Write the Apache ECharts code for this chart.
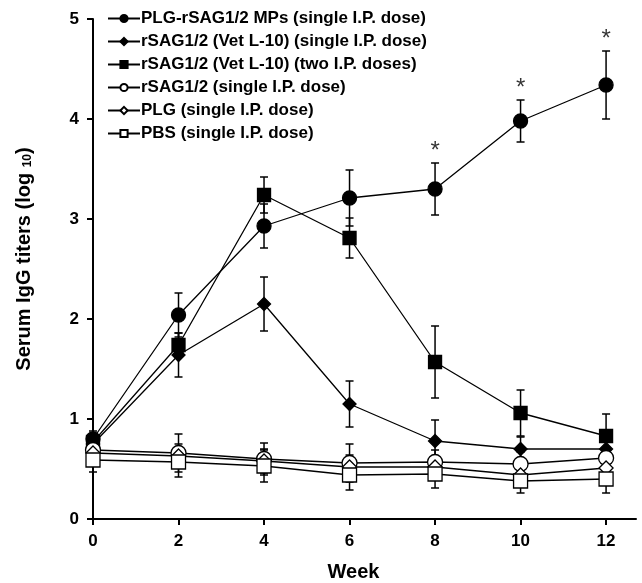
<!DOCTYPE html>
<html>
<head>
<meta charset="utf-8">
<script src="https://cdn.jsdelivr.net/npm/echarts@6/dist/echarts.min.js"></script>
<style>
html, body { margin: 0; padding: 0; background: #fff; }
#chart { width: 642px; height: 583px; }
</style>
</head>
<body>
<div id="chart"></div>
<script>
// 周数
var weeks = [0, 2, 4, 6, 8, 10, 12];
var weekTicks = [0, 2, 4, 6, 8, 10, 12];

// 各组名称
var groupNames = [
	'PLG-rSAG1/2 MPs (single I.P. dose)',
	'rSAG1/2 (Vet L-10) (single I.P. dose)',
	'rSAG1/2 (Vet L-10) (two I.P. doses)',
	'rSAG1/2 (single I.P. dose)',
	'PLG (single I.P. dose)',
	'PBS (single I.P. dose)'
];

// 均值 (log10)
var mpsMean    = [0.80, 2.04, 2.93, 3.21, 3.30, 3.98, 4.34];
var vetOneMean = [0.75, 1.64, 2.15, 1.15, 0.78, 0.70, 0.70];
var vetTwoMean = [0.77, 1.74, 3.24, 2.81, 1.57, 1.06, 0.83];
var sagMean    = [0.69, 0.66, 0.60, 0.56, 0.57, 0.55, 0.61];
var plgMean    = [0.66, 0.63, 0.58, 0.52, 0.52, 0.44, 0.51];
var pbsMean    = [0.59, 0.57, 0.53, 0.44, 0.45, 0.38, 0.40];

// 标准误差
var mpsErr    = [0.08, 0.22, 0.22, 0.28, 0.26, 0.21, 0.34];
var vetOneErr = [0.08, 0.22, 0.27, 0.23, 0.21, 0.12, 0.10];
var vetTwoErr = [0.08, 0.12, 0.18, 0.20, 0.36, 0.23, 0.22];
var sagErr    = [0.08, 0.19, 0.16, 0.19, 0.12, 0.12, 0.10];
var plgErr    = [0.10, 0.12, 0.12, 0.12, 0.10, 0.10, 0.08];
var pbsErr    = [0.12, 0.15, 0.16, 0.15, 0.14, 0.12, 0.14];

// 显著性标记 (*)
var starWeeks = [8, 10, 12];

var means = [mpsMean, vetOneMean, vetTwoMean, sagMean, plgMean, pbsMean];
var errs = [mpsErr, vetOneErr, vetTwoErr, sagErr, plgErr, pbsErr];
var symbols = ['circle', 'diamond', 'rect', 'circle', 'diamond', 'rect'];
var fills = ['#000', '#000', '#000', '#fff', '#fff', '#fff'];
var sizes = [14, 13, 13, 15, 14, 14];

var fontFamily = '"Liberation Sans", Arial, sans-serif';

function pairs(ys) {
	var out = [];
	for (var i = 0; i < weeks.length; i++) {
		out.push([weeks[i], ys[i]]);
	}
	return out;
}

function errRows(ys, es) {
	var out = [];
	for (var i = 0; i < weeks.length; i++) {
		out.push([weeks[i], ys[i] - es[i], ys[i] + es[i]]);
	}
	return out;
}

var series = [];

// 误差线
for (var g = 0; g < means.length; g++) {
	series.push({
		type : 'custom',
		z : 1,
		silent : true,
		data : errRows(means[g], errs[g]),
		renderItem : function(params, api) {
			var x = api.value(0);
			var lo = api.coord([x, api.value(1)]);
			var hi = api.coord([x, api.value(2)]);
			var cap = 4;
			var style = { stroke : '#000', lineWidth : 1.5 };
			return {
				type : 'group',
				children : [ {
					type : 'line',
					shape : { x1 : lo[0], y1 : lo[1], x2 : hi[0], y2 : hi[1] },
					style : style
				}, {
					type : 'line',
					shape : { x1 : lo[0] - cap, y1 : lo[1], x2 : lo[0] + cap, y2 : lo[1] },
					style : style
				}, {
					type : 'line',
					shape : { x1 : hi[0] - cap, y1 : hi[1], x2 : hi[0] + cap, y2 : hi[1] },
					style : style
				} ]
			};
		}
	});
}

// 折线
for (var g = 0; g < means.length; g++) {
	series.push({
		name : groupNames[g],
		type : 'line',
		z : 3,
		data : pairs(means[g]),
		symbol : symbols[g],
		symbolSize : sizes[g],
		showAllSymbol : true,
		lineStyle : { color : '#000', width : 1.3 },
		itemStyle : { color : fills[g], borderColor : '#000', borderWidth : 1.3 },
		emphasis : { disabled : true },
		animation : false
	});
}

// 星号
var starData = [];
for (var i = 0; i < starWeeks.length; i++) {
	var k = weeks.indexOf(starWeeks[i]);
	starData.push([starWeeks[i], mpsMean[k] + mpsErr[k] + 0.16]);
}
series.push({
	type : 'scatter',
	z : 4,
	symbolSize : 1,
	itemStyle : { color : 'transparent' },
	data : starData,
	label : {
		show : true,
		position : 'inside',
		formatter : '*',
		color : '#000',
		fontSize : 24,
		fontFamily : fontFamily,
		offset : [0, 4]
	},
	silent : true
});

var myChart = echarts.init(document.getElementById('chart'));
myChart.setOption({
	animation : false,
	backgroundColor : '#fff',
	grid : { left : 93, right : 6, top : 19, bottom : 64, outerBoundsMode : 'none' },
	legend : {
		data : groupNames,
		orient : 'vertical',
		left : 102,
		top : 5,
		itemWidth : 32,
		itemHeight : 9,
		itemGap : 6,
		selectedMode : false,
		textStyle : {
			color : '#000',
			fontSize : 17,
			fontWeight : 'bold',
			fontFamily : fontFamily,
			padding : [0, 0, 0, -4]
		}
	},
	xAxis : {
		type : 'value',
		min : 0,
		max : 12.7,
		name : 'Week',
		nameLocation : 'middle',
		nameGap : 43,
		nameTextStyle : { color : '#000', fontSize : 20, fontWeight : 'bold', fontFamily : fontFamily, padding : [0, 22, 0, 0] },
		splitLine : { show : false },
		axisLine : { show : true, lineStyle : { color : '#000', width : 2 } },
		axisTick : { show : true, customValues : weekTicks, length : 6, lineStyle : { color : '#000', width : 2 } },
		axisLabel : { customValues : weekTicks, margin : 14, color : '#000', fontSize : 17, fontWeight : 'bold', fontFamily : fontFamily }
	},
	yAxis : {
		type : 'value',
		min : 0,
		max : 5,
		interval : 1,
		name : 'Serum IgG titers (log {sub|10})',
		nameLocation : 'middle',
		nameGap : 59,
		nameRotate : 90,
		nameTextStyle : {
			color : '#000', fontSize : 20, fontWeight : 'bold', fontFamily : fontFamily,
			padding : [0, 0, 0, 20],
			rich : {
				sub : { fontSize : 12, fontWeight : 'bold', fontFamily : fontFamily, color : '#000', verticalAlign : 'bottom', padding : [7, 0, 0, 0] }
			}
		},
		splitLine : { show : false },
		axisLine : { show : true, lineStyle : { color : '#000', width : 2 } },
		axisTick : { show : true, length : 6, lineStyle : { color : '#000', width : 2 } },
		axisLabel : { margin : 14, color : '#000', fontSize : 17, fontWeight : 'bold', fontFamily : fontFamily }
	},
	series : series
});
</script>
</body>
</html>
